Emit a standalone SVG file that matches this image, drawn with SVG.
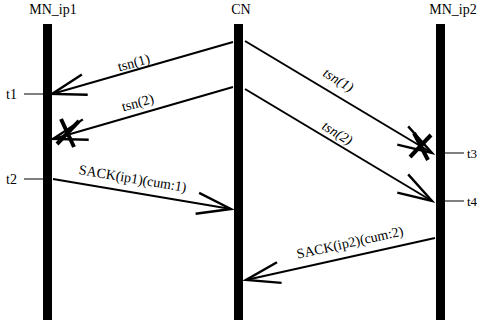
<svg xmlns="http://www.w3.org/2000/svg" width="479" height="320" viewBox="0 0 479 320" font-family="Liberation Serif, Times New Roman, serif" font-size="14">
<style>
.it{font-style:italic}
.life{fill:#000}
.msg{stroke:#000;stroke-width:2;fill:none}
.tick{stroke:#000;stroke-width:1}
.x{stroke:#000;stroke-width:4;stroke-linecap:butt}
</style>
<defs>
<marker id="ah" markerUnits="userSpaceOnUse" orient="auto" refX="0" refY="0" markerWidth="40" markerHeight="30" viewBox="-32 -12 34 24" overflow="visible">
<path d="M-29,-9 L0,0 L-29,9" fill="none" stroke="#000" stroke-width="2"/>
</marker>
</defs>
<rect width="479" height="320" fill="#fff"/>
<g id="mn_ip1">
<rect class="life" x="43" y="24" width="9" height="296"/>
<text x="53" y="14" text-anchor="middle">MN_ip1</text>
</g>
<g id="cn">
<rect class="life" x="234" y="24" width="9" height="296"/>
<text x="241" y="14" text-anchor="middle">CN</text>
</g>
<g id="mn_ip2">
<rect class="life" x="436" y="24" width="9" height="296"/>
<text x="453" y="14" text-anchor="middle">MN_ip2</text>
</g>
<g id="ticks">
<line class="tick" x1="24" y1="94" x2="43" y2="94"/>
<text x="6" y="99">t1</text>
<line class="tick" x1="24" y1="179" x2="43" y2="179"/>
<text x="6" y="184">t2</text>
<line class="tick" x1="445" y1="153" x2="464" y2="153"/>
<text x="467" y="158" font-size="13">t3</text>
<line class="tick" x1="445" y1="201" x2="464" y2="201"/>
<text x="467" y="206" font-size="13">t4</text>
</g>
<g id="connectors">
<line class="msg" x1="233" y1="42" x2="52" y2="94" marker-end="url(#ah)"/>
<line class="msg" x1="233" y1="87" x2="53" y2="139" marker-end="url(#ah)"/>
<line class="msg" x1="245" y1="41" x2="432" y2="153" marker-end="url(#ah)"/>
<line class="msg" x1="245" y1="89" x2="432" y2="201" marker-end="url(#ah)"/>
<line class="msg" x1="53" y1="179" x2="231" y2="209" marker-end="url(#ah)"/>
<line class="msg" x1="435" y1="238" x2="246" y2="280" marker-end="url(#ah)"/>
<line class="x" x1="61" y1="119" x2="74" y2="147"/>
<line class="x" x1="57" y1="144" x2="79" y2="121"/>
<line class="x" x1="414" y1="133" x2="428" y2="160"/>
<line class="x" x1="410" y1="157" x2="431" y2="135"/>
<text transform="translate(135,67) rotate(-16)" text-anchor="middle">tsn(1)</text>
<text transform="translate(139,107) rotate(-16)" text-anchor="middle">tsn(2)</text>
<text class="it" transform="translate(336,84) rotate(31)" text-anchor="middle">tsn(1)</text>
<text class="it" transform="translate(335,137) rotate(31)" text-anchor="middle">tsn(2)</text>
<text transform="translate(132,183) rotate(9.5)" text-anchor="middle">SACK(ip1)(cum:1)</text>
<text transform="translate(351,247) rotate(-12.5)" text-anchor="middle">SACK(ip2)(cum:2)</text>
</g>
</svg>
